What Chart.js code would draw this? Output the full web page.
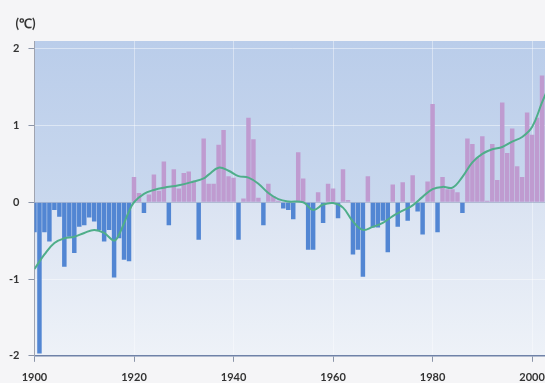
<!DOCTYPE html>
<html>
<head>
<meta charset="utf-8">
<script src="https://cdn.jsdelivr.net/npm/chart.js@4.4.0/dist/chart.umd.min.js"></script>
<style>
  html, body { margin: 0; padding: 0; background: #f5f5f7; overflow: hidden; }
  #wrap { width: 560px; height: 393px; position: relative; }
</style>
</head>
<body>
<div id="wrap"><canvas id="tempChart"></canvas></div>
<script>
// Yearly anomalies (bars)
const years = [
  1900, 1901, 1902, 1903, 1904, 1905, 1906, 1907, 1908, 1909,
  1910, 1911, 1912, 1913, 1914, 1915, 1916, 1917, 1918, 1919,
  1920, 1921, 1922, 1923, 1924, 1925, 1926, 1927, 1928, 1929,
  1930, 1931, 1932, 1933, 1934, 1935, 1936, 1937, 1938, 1939,
  1940, 1941, 1942, 1943, 1944, 1945, 1946, 1947, 1948, 1949,
  1950, 1951, 1952, 1953, 1954, 1955, 1956, 1957, 1958, 1959,
  1960, 1961, 1962, 1963, 1964, 1965, 1966, 1967, 1968, 1969,
  1970, 1971, 1972, 1973, 1974, 1975, 1976, 1977, 1978, 1979,
  1980, 1981, 1982, 1983, 1984, 1985, 1986, 1987, 1988, 1989,
  1990, 1991, 1992, 1993, 1994, 1995, 1996, 1997, 1998, 1999,
  2000, 2001, 2002, 2003
];
const anomalies = [
  -0.39, -1.97, -0.39, -0.51, -0.10, -0.19, -0.84, -0.45, -0.66, -0.32,
  -0.30, -0.20, -0.25, -0.36, -0.51, -0.36, -0.98, -0.47, -0.75, -0.77,
   0.33,  0.12, -0.14,  0.10,  0.36,  0.15,  0.53, -0.30,  0.43,  0.18,
   0.38,  0.40,  0.28, -0.49,  0.83,  0.24,  0.24,  0.75,  0.94,  0.34,
   0.32, -0.49,  0.05,  1.10,  0.82,  0.06, -0.30,  0.24,  0.08,  0.02,
  -0.08, -0.10, -0.22,  0.65,  0.31, -0.62, -0.62,  0.13, -0.27,  0.24,
   0.18, -0.21,  0.43,  0.03, -0.68, -0.62, -0.97,  0.34, -0.33, -0.33,
  -0.24, -0.65,  0.23, -0.32,  0.26, -0.24,  0.35, -0.12, -0.42,  0.27,
   1.28, -0.39,  0.33,  0.17,  0.17,  0.13, -0.14,  0.83,  0.76,  0.58,
   0.86,  0.02,  0.76,  0.29,  1.30,  0.64,  0.96,  0.47,  0.33,  1.17,
   0.88,  1.10,  1.65,  1.38
];

// Smoothed curve (green line)
const smoothYears = [
  1900, 1902, 1904, 1906, 1908, 1910, 1912, 1914, 1916, 1917,
  1919, 1920, 1922, 1924, 1926, 1929, 1932, 1934, 1935, 1937,
  1939, 1941, 1943, 1945, 1947, 1949, 1951, 1954, 1956, 1958,
  1960, 1962, 1964, 1966, 1968, 1970, 1972, 1974, 1976, 1978,
  1980, 1982, 1984, 1986, 1988, 1990, 1992, 1994, 1996, 1998,
  2000, 2002, 2003
];
const smoothValues = [
  -0.87, -0.68, -0.53, -0.47, -0.45, -0.40, -0.36, -0.40, -0.50, -0.42,
  -0.12,  0.00,  0.11,  0.16,  0.19,  0.22,  0.27,  0.31,  0.36,  0.45,
   0.41,  0.34,  0.32,  0.24,  0.12,  0.04,  0.01,  0.00, -0.10, -0.03,
  -0.01, -0.07, -0.25, -0.36, -0.32, -0.27, -0.18, -0.11, -0.04,  0.07,
   0.17,  0.20,  0.19,  0.33,  0.52,  0.63,  0.69,  0.72,  0.79,  0.85,
   0.98,  1.30,  1.45
];

const xTicks = [1900, 1920, 1940, 1960, 1980, 2000];
const yTicks = [-2, -1, 0, 1, 2];
const unitLabel = "(℃)";

const warmColor = "#bf9bd0";
const coldColor = "#5286d3";
const lineColor = "#4fae8a";

// Plot background: darker blue above zero, pale below
const plotBackground = {
    id: "plotBackground",
    beforeDraw(chart) {
        const { ctx, chartArea: a, scales } = chart;
        const zeroY = scales.y.getPixelForValue(0);
        ctx.save();
        let g = ctx.createLinearGradient(0, a.top, 0, zeroY);
        g.addColorStop(0, "#bacdea");
        g.addColorStop(1, "#c9d8ee");
        ctx.fillStyle = g;
        ctx.fillRect(a.left, a.top, a.width, zeroY - a.top);
        g = ctx.createLinearGradient(0, zeroY, 0, a.bottom);
        g.addColorStop(0, "#dae3f2");
        g.addColorStop(1, "#eef2f8");
        ctx.fillStyle = g;
        ctx.fillRect(a.left, zeroY, a.width, a.bottom - zeroY);
        ctx.restore();
    }
};

// Unit label above the y axis
const unitText = {
    id: "unitText",
    afterDraw(chart) {
        const { ctx, chartArea: a } = chart;
        ctx.save();
        ctx.font = "bold 13px Lato";
        ctx.fillStyle = "#333";
        ctx.textBaseline = "top";
        ctx.fillText(unitLabel, a.left - 19, a.top - 24);
        ctx.restore();
    }
};

Chart.defaults.font.family = "Lato";
Chart.defaults.font.weight = "bold";
Chart.defaults.font.size = 11;
Chart.defaults.color = "#333";

const tempChart = new Chart(document.getElementById("tempChart"), {
    type: "bar",
    data: {
        datasets: [{
            type: "line",
            data: smoothYears.map((y, i) => ({ x: y, y: smoothValues[i] })),
            borderColor: lineColor,
            borderWidth: 2,
            tension: 0.4,
            pointRadius: 0,
            order: 0
        }, {
            data: years.map((y, i) => ({ x: y, y: anomalies[i] })),
            backgroundColor: anomalies.map(v => v >= 0 ? warmColor : coldColor),
            categoryPercentage: 1,
            barPercentage: 0.9,
            order: 1
        }]
    },
    options: {
        responsive: true,
        maintainAspectRatio: false,
        animation: false,
        layout: { padding: { top: 41, left: 0, right: 10, bottom: 0 } },
        plugins: { legend: { display: false }, tooltip: { enabled: false } },
        scales: {
            x: {
                type: "linear",
                min: 1900,
                max: 2003.6,
                offset: false,
                afterBuildTicks: s => { s.ticks = xTicks.map(v => ({ value: v })); },
                ticks: { padding: 9, maxRotation: 0, callback: v => String(v) },
                grid: { color: "rgba(255,255,255,0.4)", tickColor: "#8a94a8", tickLength: 6, offset: false },
                border: { color: "#6f82a8", width: 1.5 }
            },
            y: {
                min: -2,
                max: 2.1,
                afterBuildTicks: s => { s.ticks = yTicks.map(v => ({ value: v })); },
                ticks: { padding: 9 },
                grid: {
                    color: c => c.tick && c.tick.value === 0 ? "rgba(120,135,170,0.45)" : "rgba(255,255,255,0.45)",
                    tickColor: "#8a94a8",
                    tickLength: 6
                },
                border: { color: "#a0a4b0", width: 1 }
            }
        }
    },
    plugins: [plotBackground, unitText]
});
</script>
</body>
</html>
